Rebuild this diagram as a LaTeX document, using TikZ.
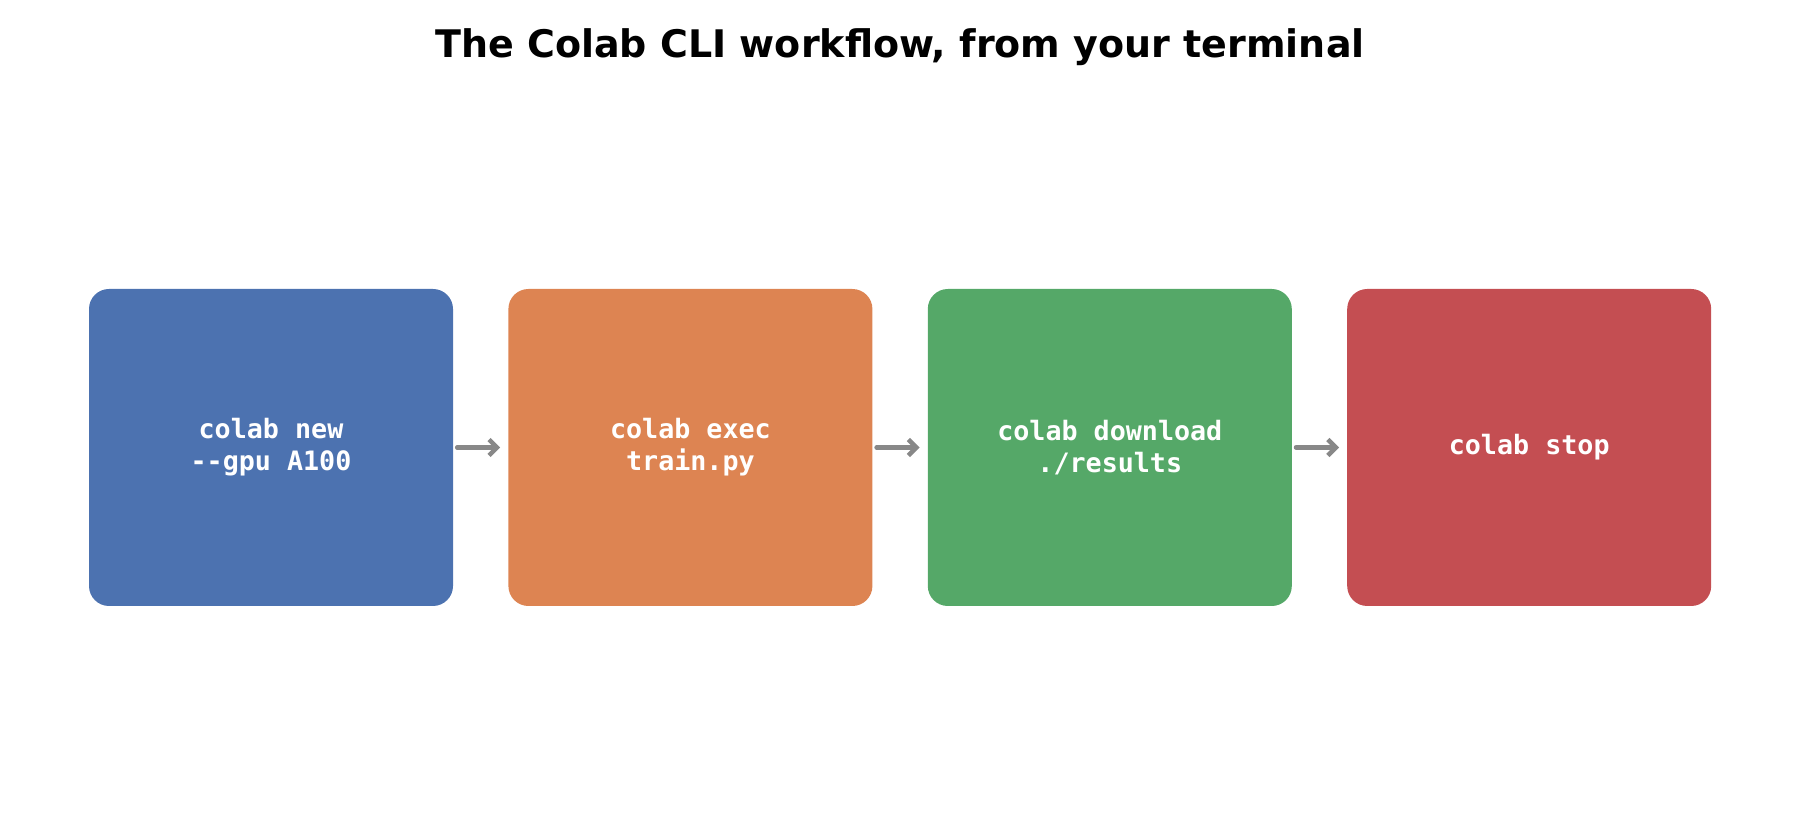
\documentclass[tikz,border=0pt]{standalone}
\usepackage{fontspec}
\setmainfont{DejaVu Sans}
\setmonofont{DejaVu Sans Mono}
\usetikzlibrary{arrows.meta,positioning}
\definecolor{newblue}{HTML}{4C72B0}
\definecolor{execorange}{HTML}{DD8452}
\definecolor{dlgreen}{HTML}{55A868}
\definecolor{stopred}{HTML}{C44E52}
\definecolor{linkgray}{HTML}{888888}

\begin{document}
\begin{tikzpicture}[x=1pt,y=1pt,
		stepbox/.style={rectangle, rounded corners=20pt, minimum width=364pt, minimum height=317pt, inner sep=0pt, text=white, align=center, font=\ttfamily\bfseries\fontsize{26.7}{32}\selectfont},
		link/.style={draw=linkgray, line width=4.5pt, line cap=round, -{Straight Barb[length=8pt,width=16pt]}}]
	\useasboundingbox (0,0) rectangle (1800,825);
	\node[anchor=base, font=\bfseries\fontsize{38}{46}\selectfont] (title) at (900,767) {The Colab CLI workflow, from your terminal};
	\node[stepbox, fill=newblue] (new) at (271,377.5) {colab new\\-{}-gpu A100};
	\node[stepbox, fill=execorange, right=55pt of new] (exec) {colab exec\\train.py};
	\node[stepbox, fill=dlgreen, right=55pt of exec] (download) {colab download\\./results};
	\node[stepbox, fill=stopred, right=55pt of download] (stop) {colab stop};
	\foreach \a/\b in {new/exec,exec/download,download/stop} \draw[link] ([xshift=4pt]\a.east) -- ([xshift=-8pt]\b.west);
\end{tikzpicture}
\end{document}
